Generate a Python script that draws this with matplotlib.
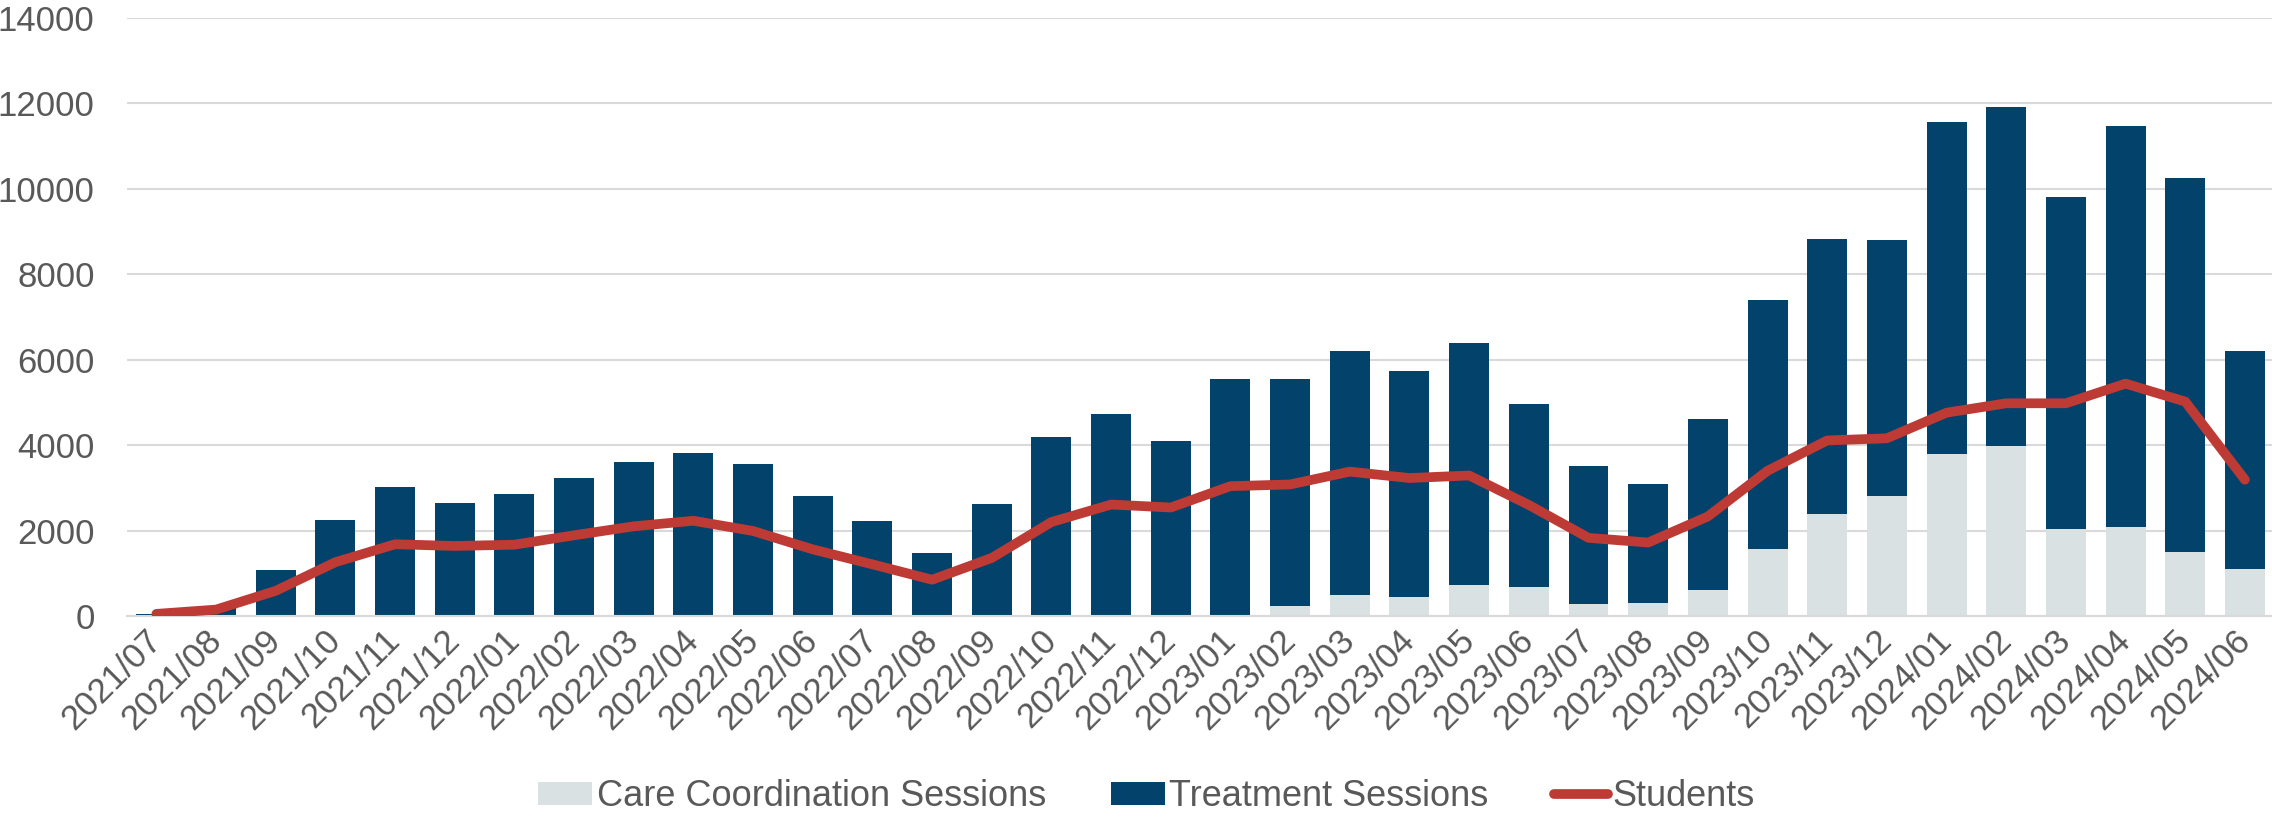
import matplotlib
matplotlib.use("Agg")
import matplotlib.pyplot as plt
import numpy as np

months = ['2021/07', '2021/08', '2021/09', '2021/10', '2021/11', '2021/12',
          '2022/01', '2022/02', '2022/03', '2022/04', '2022/05', '2022/06',
          '2022/07', '2022/08', '2022/09', '2022/10', '2022/11', '2022/12',
          '2023/01', '2023/02', '2023/03', '2023/04', '2023/05', '2023/06',
          '2023/07', '2023/08', '2023/09', '2023/10', '2023/11', '2023/12',
          '2024/01', '2024/02', '2024/03', '2024/04', '2024/05', '2024/06']

# total bar heights (care + treatment)
total_sessions = [40, 210, 1070, 2245, 3010, 2640,
                  2845, 3235, 3610, 3825, 3555, 2805,
                  2235, 1475, 2620, 4195, 4720, 4100,
                  5555, 5555, 6215, 5740, 6390, 4955,
                  3515, 3080, 4610, 7390, 8825, 8800,
                  11575, 11905, 9815, 11470, 10265, 6195]

care_sessions = [0, 0, 0, 0, 0, 0,
                 0, 0, 0, 0, 0, 0,
                 0, 0, 0, 0, 0, 0,
                 0, 245, 495, 455, 720, 670,
                 290, 310, 600, 1575, 2380, 2815,
                 3795, 3970, 2040, 2080, 1505, 1090]

treatment_sessions = [t - c for t, c in zip(total_sessions, care_sessions)]

students = [50, 150, 590, 1260, 1680, 1640,
            1670, 1890, 2100, 2230, 1990, 1560,
            1210, 850, 1360, 2200, 2610, 2540,
            3040, 3080, 3380, 3230, 3290, 2600,
            1830, 1720, 2330, 3400, 4110, 4160,
            4760, 4980, 4980, 5440, 5020, 3190]

care_color = '#D9E1E2'
treat_color = '#02426B'
line_color = '#BE3A34'
text_color = '#595959'

plt.rcParams['font.family'] = ['Liberation Sans', 'DejaVu Sans']

fig = plt.figure(figsize=(22.72, 8.17), dpi=100)
ax = fig.add_axes([0.0557, 0.246, 0.9455, 0.732])

x = np.arange(len(months))
b1 = ax.bar(x, care_sessions, width=0.67, color=care_color, label='Care Coordination Sessions', zorder=2)
b2 = ax.bar(x, treatment_sessions, width=0.67, bottom=care_sessions, color=treat_color,
            label='Treatment Sessions', zorder=2)
l1, = ax.plot(x, students, color=line_color, linewidth=7, solid_capstyle='round',
              solid_joinstyle='round', label='Students', zorder=3)

ax.set_xlim(-0.5, len(months) - 0.5)
ax.set_ylim(0, 14000)
ax.set_yticks(np.arange(0, 14001, 2000))
ax.yaxis.grid(True, color='#D9D9D9', linewidth=1.5, zorder=0)
ax.set_axisbelow(True)
for s in ['top', 'right', 'left']:
    ax.spines[s].set_visible(False)
ax.spines['bottom'].set_color('#D9D9D9')
ax.spines['bottom'].set_linewidth(1.5)

ax.set_xticks(x)
ax.set_xticklabels(months, rotation=45, ha='right', va='center', rotation_mode='anchor')
ax.tick_params(axis='x', length=0, pad=14, labelsize=25, labelcolor=text_color)
ax.tick_params(axis='y', length=0, pad=23, labelsize=25, labelcolor=text_color)

fig.legend([b1, b2, l1], ['Care Coordination Sessions', 'Treatment Sessions', 'Students'],
           loc='center', bbox_to_anchor=(0.5045, 0.025), ncol=3, frameon=False,
           fontsize=26, labelcolor=text_color, handlelength=1.5, handleheight=0.58,
           handletextpad=0.12, columnspacing=1.8, borderpad=0)

fig.savefig('out.png', dpi=100)
